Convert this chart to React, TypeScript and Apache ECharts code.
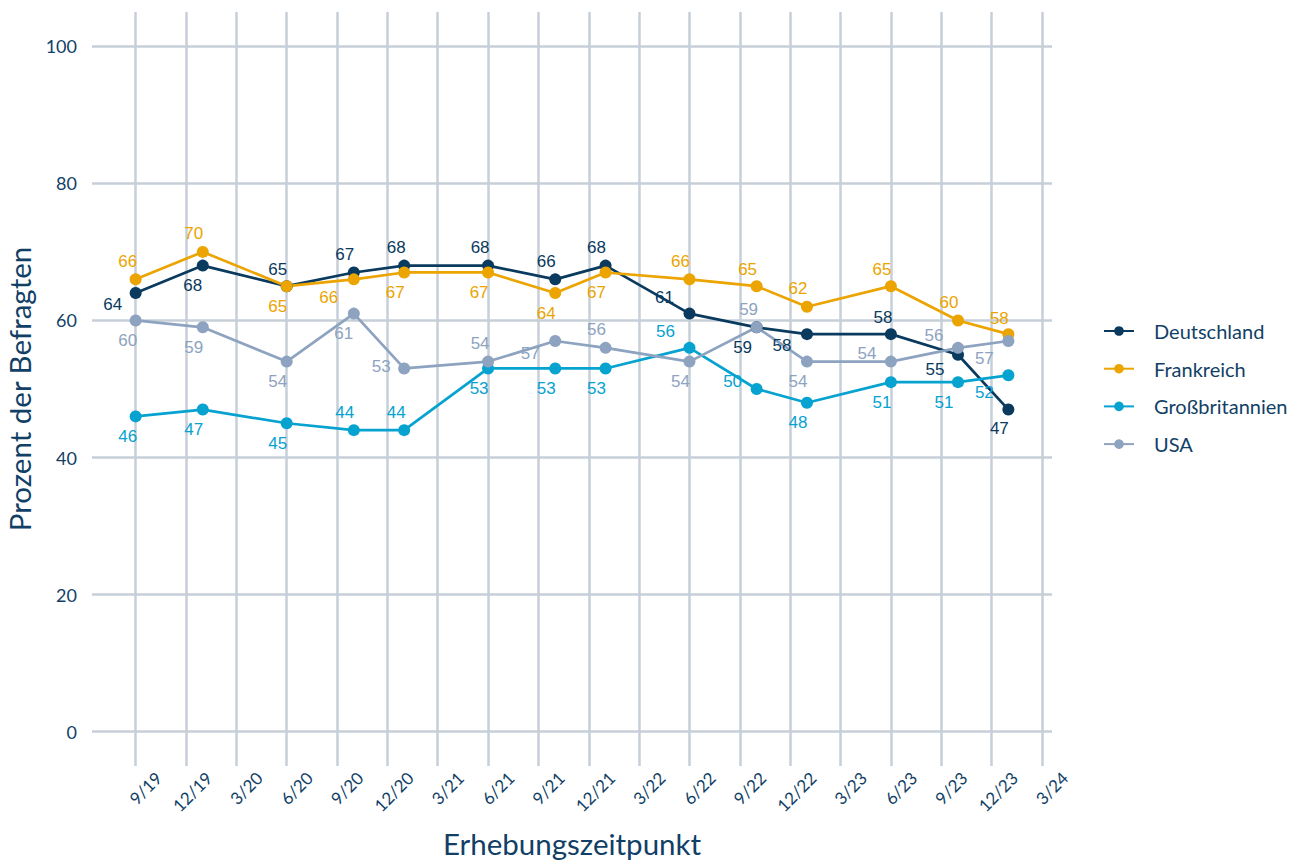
import { useEffect, useRef } from 'react';
import * as echarts from 'echarts';

// Quarterly tick labels (month offsets from 9/2019: 0, 3, 6, ...)
const tickLabels = ['9/19', '12/19', '3/20', '6/20', '9/20', '12/20', '3/21', '6/21', '9/21', '12/21', '3/22', '6/22', '9/22', '12/22', '3/23', '6/23', '9/23', '12/23', '3/24'];
// Survey dates as months since September 2019
const surveyMonths = [0, 4, 9, 13, 16, 21, 25, 28, 33, 37, 40, 45, 49, 52];
const yTicks = [0, 20, 40, 60, 80, 100];

const countries = ['Deutschland', 'Frankreich', 'Großbritannien', 'USA'];
const deutschland = [64, 68, 65, 67, 68, 68, 66, 68, 61, 59, 58, 58, 55, 47];
const frankreich = [66, 70, 65, 66, 67, 67, 64, 67, 66, 65, 62, 65, 60, 58];
const grossbritannien = [46, 47, 45, 44, 44, 53, 53, 53, 56, 50, 48, 51, 51, 52];
const usa = [60, 59, 54, 61, 53, 54, 57, 56, 54, 59, 54, 54, 56, 57];

// label placement (pixel offsets from the point), layout only
const offDE = [[-23, 11], [-10, 20], [-9, -17], [-9, -18], [-8, -18], [-8, -18], [-9, -18], [-9, -18], [-25, -16], [-14, 20], [-25, 11], [-8, -17], [-23, 15], [-9, 19]];
const offFR = [[-8, -18], [-9, -18], [-9, 20], [-25, 18], [-9, 20], [-9, 20], [-9, 20], [-9, 20], [-9, -18], [-9, -17], [-9, -18], [-9, -17], [-9, -18], [-9, -16]];
const offGB = [[-8, 20], [-9, 20], [-9, 20], [-9, -18], [-8, -18], [-9, 20], [-9, 20], [-9, 20], [-24, -16], [-24, -8], [-9, 20], [-9, 20], [-14, 20], [-24, 17]];
const offUS = [[-8, 20], [-9, 20], [-9, 20], [-10, 20], [-23, -2], [-8, -18], [-25, 12], [-9, -18], [-9, 20], [-8, -18], [-9, 20], [-24, -8], [-24, -12], [-24, 17]];

const colors = ['#0A3A5E', '#EBA400', '#06A2D0', '#8DA3C0'];
const textColor = '#123F66';
const gridColor = '#C6CFD8';

export default function App() {
  const ref = useRef<HTMLDivElement>(null);
  useEffect(() => {
    document.body.style.margin = '0';
    const chart = echarts.init(ref.current!, null, { renderer: 'svg' });
    const tickValues = tickLabels.map((_, i) => i * 3);
    const seriesVals = [deutschland, frankreich, grossbritannien, usa];
    const offsets = [offDE, offFR, offGB, offUS];
    const series = countries.map((name, s) => ({
      type: 'line',
      name,
      xAxisIndex: 0,
      yAxisIndex: 0,
      data: surveyMonths.map((m, i) => ({
        value: [m, seriesVals[s][i]],
        label: { offset: offsets[s][i] },
      })),
      symbol: 'circle',
      symbolSize: 12,
      color: colors[s],
      lineStyle: { width: 2.7, color: colors[s] },
      itemStyle: { color: colors[s] },
      label: {
        show: true,
        position: 'inside',
        color: colors[s],
        fontSize: 17,
        fontFamily: 'Liberation Sans, Arial, sans-serif',
      },
      emphasis: { disabled: true },
      silent: true,
    }));
    const axisFont = { fontFamily: 'Lato', color: textColor };
    chart.setOption({
      animation: false,
      backgroundColor: '#ffffff',
      grid: [
        { left: 92, right: 247, top: 12, bottom: 95, containLabel: false, outerBoundsMode: 'none' },
        // same scale, shifted right: carries the rotated quarter labels
        { left: 115, right: 224, top: 12, bottom: 95, containLabel: false, outerBoundsMode: 'none' },
      ],
      legend: {
        orient: 'vertical',
        left: 1098,
        top: 316,
        itemWidth: 30,
        itemHeight: 12,
        itemGap: 17.7,
        data: countries,
        textStyle: { ...axisFont, fontSize: 20, padding: [0, 0, 0, 15] },
      },
      xAxis: [
        {
          type: 'value',
          gridIndex: 0,
          min: -2.6,
          max: 54.6,
          axisLine: { show: false },
          axisTick: { show: false, customValues: tickValues },
          splitLine: { show: true, lineStyle: { color: gridColor, width: 2.5 } },
          axisLabel: { show: false },
          name: 'Erhebungszeitpunkt',
          nameLocation: 'middle',
          nameGap: 62,
          nameTextStyle: { ...axisFont, fontSize: 29.5 },
        },
        {
          type: 'value',
          gridIndex: 1,
          min: -2.6,
          max: 54.6,
          axisLine: { show: false },
          axisTick: { show: false, customValues: tickValues },
          splitLine: { show: false },
          axisLabel: {
            customValues: tickValues,
            formatter: (v: number) => tickLabels[Math.round(v / 3)] ?? '',
            rotate: 45,
            align: 'right',
            verticalAlign: 'middle',
            margin: 9,
            ...axisFont,
            fontSize: 17,
          },
        },
      ],
      yAxis: [
        {
          type: 'value',
          gridIndex: 0,
          min: -5,
          max: 105,
          axisLine: { show: false },
          axisTick: { show: false, customValues: yTicks },
          splitLine: { show: true, lineStyle: { color: gridColor, width: 2.5 } },
          axisLabel: {
            customValues: yTicks,
            margin: 15,
            ...axisFont,
            fontSize: 18,
          },
          name: 'Prozent der Befragten',
          nameLocation: 'middle',
          nameGap: 52,
          nameTextStyle: { ...axisFont, fontSize: 29.5 },
        },
        { type: 'value', gridIndex: 1, min: -5, max: 105, show: false },
      ],
      series,
    });
    return () => chart.dispose();
  }, []);
  return <div ref={ref} style={{ width: 1299, height: 861 }} />;
}
